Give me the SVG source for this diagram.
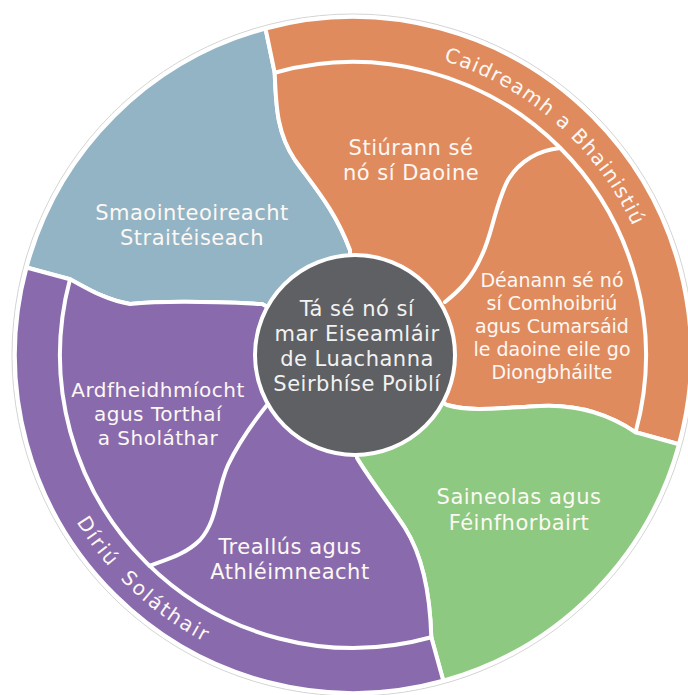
<svg xmlns="http://www.w3.org/2000/svg" width="688" height="695" viewBox="0 0 688 695">
<style>
.seg{stroke:#fff;stroke-width:4;stroke-linejoin:round}
.div{fill:none;stroke:#fff;stroke-width:4;stroke-linecap:round}
.lbl{font-family:"DejaVu Sans","Noto Sans",sans-serif;font-size:21px;letter-spacing:0.5px;fill:#fdf8f4;text-anchor:middle}
.md{font-size:20px}
.sm{font-size:19px;letter-spacing:0px}
.ctr{fill:#f2f2f2}
.ring{font-family:"DejaVu Sans","Noto Sans",sans-serif;font-size:20px;fill:#fdf8f4}
</style>
<defs>
<path id="arcTop" d="M254,63.4 A308,308 0 0 1 655.1,415.1"/>
<path id="arcBot" d="M38.3,282.3 A323,323 0 0 0 447.4,663.9"/>
</defs>
<rect width="688" height="695" fill="#ffffff"/>
<circle cx="353" cy="355" r="341" fill="none" stroke="#d4d4d4" stroke-width="1"/>
<g id="strategic">
<path class="seg" fill="#93b4c4" d="M26.5,267.5 A338,338 0 0 1 265.5,28.5 L274.7,72.7 C276,110 278,135 295,160 C315,188 335,210 350,250 L355,355 L262,304 C220,302 170,300 130,304 C105,300 85,287 70,279.2 Z"/>
<text class="lbl"><tspan x="192" y="220">Smaointeoireacht</tspan><tspan x="192" y="245">Straitéiseach</tspan></text>
</g>
<g id="relationship">
<path class="seg" fill="#e08b5e" d="M265.5,28.5 A338,338 0 0 1 679,444.2 L635.6,432.3 C610,415 580,404 540,406 C500,408 470,412 447,405 L355,355 L350,250 C335,210 315,188 295,160 C278,135 276,110 274.7,72.7 Z"/>
<text class="ring" letter-spacing="1.2"><textPath href="#arcTop" startOffset="192.7">Caidreamh</textPath></text>
<text class="ring" letter-spacing="1.2"><textPath href="#arcTop" startOffset="320.5">a</textPath></text>
<text class="ring" letter-spacing="1.2"><textPath href="#arcTop" startOffset="341.5">Bhainistiú</textPath></text>
</g>
<g id="expertise">
<path class="seg" fill="#8dc980" d="M679,444.2 A338,338 0 0 1 443.3,680.7 L431.3,637.3 C430,590 422,555 405,528 C390,505 370,480 357,458 L355,355 L447,405 C470,412 500,408 540,406 C580,404 610,415 635.6,432.3 Z"/>
<text class="lbl"><tspan x="519" y="504">Saineolas agus</tspan><tspan x="519" y="530">Féinfhorbairt</tspan></text>
</g>
<g id="delivery">
<path class="seg" fill="#896bad" d="M443.3,680.7 A338,338 0 0 1 26.5,267.5 L70,279.2 C85,287 105,300 130,304 C170,300 220,302 262,304 L355,355 L357,458 C370,480 390,505 405,528 C422,555 430,590 431.3,637.3 Z"/>
<text class="ring" letter-spacing="2" word-spacing="6" text-anchor="middle"><textPath href="#arcBot" startOffset="50%">Díriú Soláthair</textPath></text>
</g>
<g id="connectors">
<path class="div" d="M274.7,72.7 A293,293 0 0 1 635.6,432.3"/>
<path class="div" d="M431.3,637.3 A293,293 0 0 1 70,279.2"/>
<path class="div" d="M560,148 C540,150 520,160 508,180 C495,205 492,235 482,255 C472,278 460,290 445,302"/>
<path class="div" d="M267,405 C255,420 240,440 228,465 C216,492 218,520 200,540 C185,555 165,560 149.5,565.8"/>
</g>
<g id="leads">
<text class="lbl"><tspan x="411" y="155">Stiúrann sé</tspan><tspan x="411" y="180">nó sí Daoine</tspan></text>
</g>
<g id="collaborates">
<text class="lbl sm"><tspan x="552" y="287">Déanann sé nó</tspan><tspan x="552" y="310">sí Comhoibriú</tspan><tspan x="552" y="333">agus Cumarsáid</tspan><tspan x="552" y="356">le daoine eile go</tspan><tspan x="552" y="379">Diongbháilte</tspan></text>
</g>
<g id="performance">
<text class="lbl md"><tspan x="158" y="397">Ardfheidhmíocht</tspan><tspan x="158" y="421">agus Torthaí</tspan><tspan x="158" y="445">a Sholáthar</tspan></text>
</g>
<g id="resilience">
<text class="lbl"><tspan x="290" y="554">Treallús agus</tspan><tspan x="290" y="579">Athléimneacht</tspan></text>
</g>
<g id="values">
<circle cx="355" cy="355" r="100" fill="#5f6063" stroke="#fff" stroke-width="4"/>
<text class="lbl ctr"><tspan x="357" y="316">Tá sé nó sí</tspan><tspan x="357" y="341">mar Eiseamláir</tspan><tspan x="357" y="366">de Luachanna</tspan><tspan x="357" y="391">Seirbhíse Poiblí</tspan></text>
</g>
</svg>
